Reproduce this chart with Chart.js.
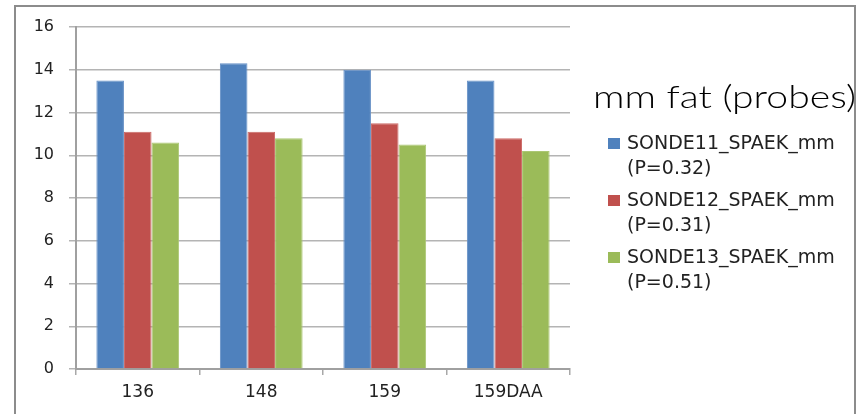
<!DOCTYPE html>
<html>
  <head>
    <script src="https://cdn.jsdelivr.net/npm/chart.js"></script>
    <style>
      body {
        margin: 0;
        padding: 0;
        background: #fff;
        overflow: hidden;
      }
      #wrap {
        position: relative;
        width: 866px;
        height: 414px;
      }
      #frame {
        position: absolute;
        left: 14px;
        top: 5px;
        width: 842px;
        height: 430px;
        border: 2px solid #8c8c8c;
        box-sizing: border-box;
      }
      canvas {
        position: absolute;
        left: 0;
        top: 0;
      }
    </style>
  </head>
  <body>
    <div id="wrap">
      <div id="frame"></div>
      <canvas id="barChart" width="866" height="414"></canvas>
    </div>
    <script>
      const categories = ["136", "148", "159", "159DAA"];
      const sonde11 = [13.5, 14.3, 14.0, 13.5];
      const sonde12 = [11.1, 11.1, 11.5, 10.8];
      const sonde13 = [10.6, 10.8, 10.5, 10.2];
      const seriesNames = [
        ["SONDE11_SPAEK_mm", "(P=0.32)"],
        ["SONDE12_SPAEK_mm", "(P=0.31)"],
        ["SONDE13_SPAEK_mm", "(P=0.51)"],
      ];
      const legendTitle = "mm fat (probes)";

      // legend drawn by hand so the two-line labels sit like the original
      const sideLegend = {
        id: "sideLegend",
        afterDraw(chart) {
          const ctx = chart.ctx;
          ctx.save();
          ctx.fillStyle = "#000";
          ctx.textBaseline = "alphabetic";
          ctx.font = "300 31px Lato";
          // stretch the title sideways to the width it has in the original
          const w = ctx.measureText(legendTitle).width;
          ctx.save();
          ctx.translate(593, 108);
          ctx.scale(263 / w, 1);
          ctx.fillText(legendTitle, 0, 0);
          ctx.restore();

          ctx.font = "19px 'DejaVu Sans'";
          ctx.textBaseline = "middle";
          chart.data.datasets.forEach((ds, i) => {
            const y = 144 + i * 57;
            ctx.fillStyle = ds.backgroundColor;
            ctx.fillRect(608, y - 6, 12, 11);
            ctx.fillStyle = "#222";
            ds.label.forEach((line, j) => {
              ctx.fillText(line, 627, y + j * 25);
            });
          });
          ctx.restore();
        },
      };

      const ctx = document.getElementById("barChart").getContext("2d");
      new Chart(ctx, {
        type: "bar",
        data: {
          labels: categories,
          datasets: [
            { label: seriesNames[0], data: sonde11, backgroundColor: "#4F81BD", borderColor: "#6690c6", borderWidth: 1 },
            { label: seriesNames[1], data: sonde12, backgroundColor: "#C0504D", borderColor: "#cc6a67", borderWidth: 1 },
            { label: seriesNames[2], data: sonde13, backgroundColor: "#9BBB59", borderColor: "#abc774", borderWidth: 1 },
          ],
        },
        options: {
          responsive: false,
          animation: false,
          categoryPercentage: 0.67,
          barPercentage: 1.0,
          layout: {
            padding: { left: 0, top: 27, right: 296, bottom: 0 },
          },
          plugins: {
            legend: { display: false },
            tooltip: { enabled: false },
          },
          scales: {
            x: {
              afterFit: (scale) => {
                scale.height = 45;
              },
              grid: {
                drawOnChartArea: false,
                drawTicks: true,
                tickLength: 6,
                color: "#a8a8a8",
                lineWidth: 1.5,
              },
              border: { color: "#a0a0a0", width: 2 },
              ticks: {
                color: "#222",
                padding: 7,
                font: { family: "'DejaVu Sans'", size: 17 },
              },
            },
            y: {
              min: 0,
              max: 16,
              afterFit: (scale) => {
                scale.width = 76;
              },
              ticks: {
                stepSize: 2,
                color: "#222",
                padding: 15,
                font: { family: "'DejaVu Sans'", size: 16 },
              },
              grid: {
                tickLength: 7,
                color: "#b4b4b4",
                lineWidth: 1.5,
              },
              border: { color: "#a0a0a0", width: 2 },
            },
          },
        },
        plugins: [sideLegend],
      });
    </script>
  </body>
</html>
